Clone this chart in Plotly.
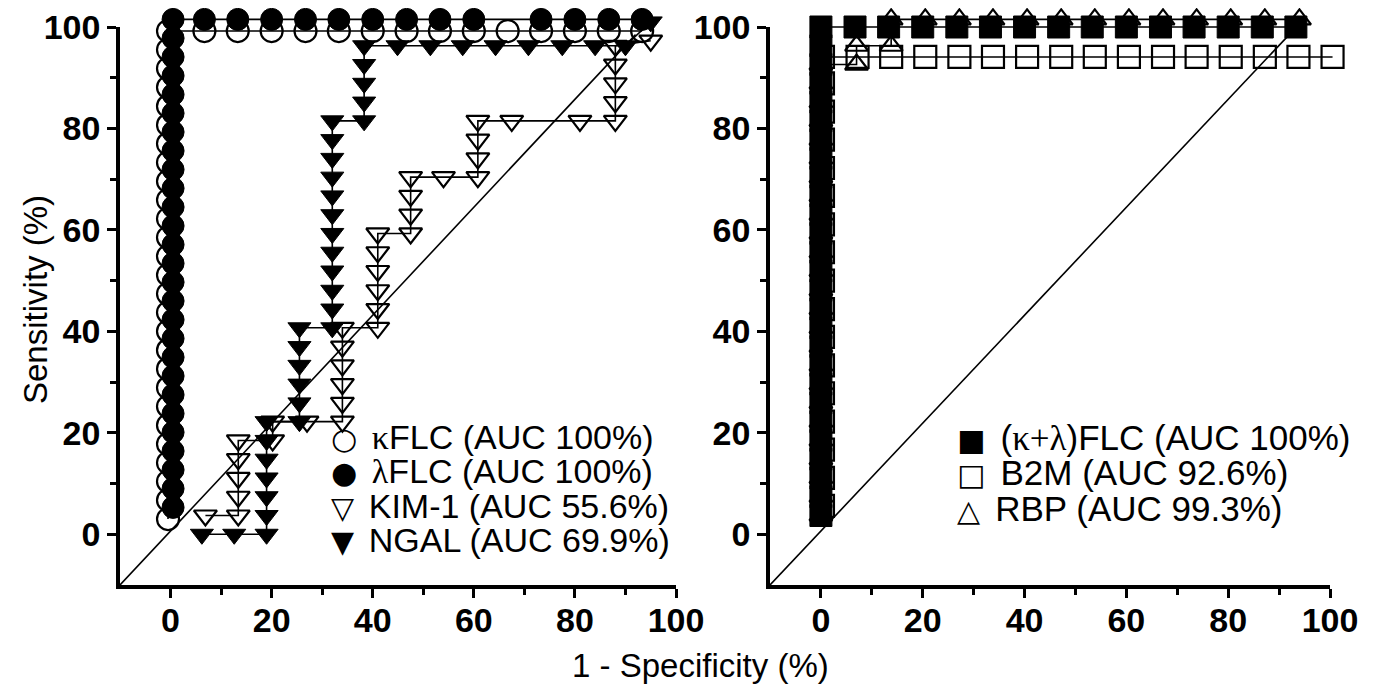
import plotly.graph_objects as go

# ---------------- data ----------------
# Left panel
kappa_fpr = [-0.5, -0.5, -0.5, -0.5, -0.5, -0.5, -0.5, -0.5, -0.5, -0.5,
             -0.5, -0.5, -0.5, -0.5, -0.5, -0.5, -0.5, -0.5, -0.5, -0.5,
             -0.5, -0.5, -0.5, -0.5, -0.5, -0.5, -0.5,
             6.7, 13.3, 20.0, 26.7, 33.3, 40.0, 46.7, 53.3, 60.0, 66.7,
             73.3, 80.0, 86.7, 93.3]
kappa_sens = [3.0, 6.7, 10.4, 14.1, 17.8, 21.5, 25.2, 28.9, 32.6, 36.3,
              40.0, 43.7, 47.4, 51.1, 54.8, 58.5, 62.2, 65.9, 69.6, 73.3,
              77.0, 80.7, 84.4, 88.1, 91.8, 95.5, 99.2,
              99.2, 99.2, 99.2, 99.2, 99.2, 99.2, 99.2, 99.2, 99.2, 99.2,
              99.2, 99.2, 99.2, 99.2]

lambda_fpr = [0.5, 0.5, 0.5, 0.5, 0.5, 0.5, 0.5, 0.5, 0.5, 0.5,
              0.5, 0.5, 0.5, 0.5, 0.5, 0.5, 0.5, 0.5, 0.5, 0.5,
              0.5, 0.5, 0.5, 0.5, 0.5, 0.5, 0.5,
              6.7, 13.3, 20.0, 26.7, 33.3, 40.0, 46.7, 53.3, 60.0,
              73.3, 80.0, 86.7, 93.3]
lambda_sens = [5.3, 9.0, 12.7, 16.4, 20.1, 23.8, 27.5, 31.2, 34.9, 38.6,
               42.3, 46.0, 49.7, 53.4, 57.1, 60.8, 64.5, 68.2, 71.9, 75.6,
               79.3, 83.0, 86.7, 90.4, 94.1, 97.8, 101.5,
               101.5, 101.5, 101.5, 101.5, 101.5, 101.5, 101.5, 101.5, 101.5,
               101.5, 101.5, 101.5, 101.5]

kim_fpr = [6.9, 13.4, 13.4, 13.4, 13.4, 13.4, 20.2, 20.2, 27.0, 34.0,
           34.0, 34.0, 34.0, 34.0, 34.0, 41.0, 41.0, 41.0, 41.0, 41.0,
           41.0, 47.5, 47.5, 47.5, 47.5, 54.0, 60.8, 60.8, 60.8, 60.8,
           67.5, 81.0, 88.0, 88.0, 88.0, 88.0, 88.0, 95.0]
kim_sens = [3.7, 3.7, 7.4, 11.1, 14.8, 18.5, 18.5, 22.2, 22.2, 22.2,
            25.9, 29.6, 33.3, 37.0, 40.7, 40.7, 44.4, 48.1, 51.9, 55.6,
            59.3, 59.3, 63.0, 66.7, 70.4, 70.4, 70.4, 74.1, 77.8, 81.5,
            81.5, 81.5, 81.5, 85.2, 88.9, 92.6, 96.3, 97.3]

ngal_fpr = [6.2, 12.6, 19.0, 19.0, 19.0, 19.0, 19.0, 19.0, 19.0, 25.5,
            25.5, 25.5, 25.5, 25.5, 25.5, 32.0, 32.0, 32.0, 32.0, 32.0,
            32.0, 32.0, 32.0, 32.0, 32.0, 32.0, 32.0, 38.3, 38.3, 38.3,
            38.3, 38.3, 44.9, 51.4, 57.8, 64.3, 70.8, 77.5, 84.0, 90.0, 95.0]
ngal_sens = [0.0, 0.0, 0.0, 3.7, 7.4, 11.1, 14.8, 18.5, 22.2, 22.2,
             25.9, 29.6, 33.3, 37.0, 40.7, 40.7, 44.4, 48.1, 51.9, 55.6,
             59.3, 63.0, 66.7, 70.4, 74.1, 77.8, 81.5, 81.5, 85.2, 88.9,
             92.6, 96.3, 96.3, 96.3, 96.3, 96.3, 96.3, 96.3, 96.3, 96.3, 101.0]

# Right panel
kl_fpr = [0.0, 0.0, 0.0, 0.0, 0.0, 0.0, 0.0, 0.0, 0.0, 0.0,
          0.0, 0.0, 0.0, 0.0, 0.0, 0.0, 0.0, 0.0, 0.0, 0.0,
          0.0, 0.0, 0.0, 0.0, 0.0, 0.0, 0.0,
          6.7, 13.3, 20.0, 26.7, 33.3, 40.0, 46.7, 53.3, 60.0, 66.7,
          73.3, 80.0, 86.7, 93.3]
kl_sens = [3.7, 7.4, 11.1, 14.8, 18.5, 22.2, 25.9, 29.6, 33.3, 37.0,
           40.7, 44.4, 48.1, 51.9, 55.6, 59.3, 63.0, 66.7, 70.4, 74.1,
           77.8, 81.5, 85.2, 88.9, 92.6, 96.3, 100.0,
           100.0, 100.0, 100.0, 100.0, 100.0, 100.0, 100.0, 100.0, 100.0, 100.0,
           100.0, 100.0, 100.0, 100.0]

b2m_fpr = [0.4, 0.4, 0.4, 0.4, 0.4, 0.4, 0.4, 0.4, 0.4, 0.4,
           0.4, 0.4, 0.4, 0.4, 0.4, 0.4, 0.4,
           7.2, 13.8, 20.5, 27.2, 33.8, 40.5, 47.2, 53.8, 60.5, 67.2,
           73.8, 80.5, 87.2, 93.8, 100.5]
b2m_sens = [5.6, 11.1, 16.7, 22.2, 27.8, 33.3, 38.9, 44.4, 50.0, 55.6,
            61.1, 66.7, 72.2, 77.8, 83.3, 88.9, 94.1,
            94.1, 94.1, 94.1, 94.1, 94.1, 94.1, 94.1, 94.1, 94.1, 94.1,
            94.1, 94.1, 94.1, 94.1, 94.1]

rbp_fpr = [0.0, 0.0, 0.0, 0.0, 0.0, 0.0, 0.0, 0.0, 0.0, 0.0,
           0.0, 0.0, 0.0, 0.0, 0.0, 0.0, 0.0, 0.0, 0.0, 0.0,
           0.0, 0.0, 0.0, 0.0, 0.0,
           7.0, 7.0, 13.8, 13.8, 20.5, 27.2, 33.8, 40.5, 47.2, 53.8, 60.5,
           67.2, 73.8, 80.5, 87.2, 94.0]
rbp_sens = [3.7, 7.4, 11.1, 14.8, 18.5, 22.2, 25.9, 29.6, 33.3, 37.0,
            40.7, 44.4, 48.1, 51.9, 55.6, 59.3, 63.0, 66.7, 70.4, 74.1,
            77.8, 81.5, 85.2, 88.9, 92.6,
            92.6, 96.3, 96.3, 101.5, 101.5, 101.5, 101.5, 101.5, 101.5, 101.5,
            101.5, 101.5, 101.5, 101.5, 101.5, 101.5]

diag_x = [-10, 92]
diag_y = [-10, 98.5]

tick_vals = [0, 20, 40, 60, 80, 100]
tick_text = ["0", "20", "40", "60", "80", "100"]
minor_vals = [10, 30, 50, 70, 90]

left_symbols = ["○", "●", "▽", "▼"]
left_greek = ["κ", "λ", "", ""]
left_labels = ["FLC (AUC 100%)", "FLC (AUC 100%)", "KIM-1 (AUC 55.6%)", "NGAL (AUC 69.9%)"]
right_symbols = ["■", "□", "△"]
right_greek = ["κ+λ", "", ""]
right_pre = ["(", "", ""]
right_labels = [")FLC (AUC 100%)", "B2M (AUC 92.6%)", "RBP (AUC 99.3%)"]

# ---------------- geometry ----------------
W, H = 1374, 692
OFF = 8                          # page body margin
XL0, XL1, XR0, XR1 = 120, 676, 770, 1330   # axis pixel extents (left/right panels)
YT, YB = 27, 585
EXT = 18                         # extra room so points just above 100 are not clipped
RNG = [-10, 100]
sxl = (XL1 - XL0) / (RNG[1] - RNG[0])
sxr = (XR1 - XR0) / (RNG[1] - RNG[0])
sy = (YB - YT) / (RNG[1] - RNG[0])

fig = go.Figure()

def add_diag(xa, ya):
    fig.add_trace(go.Scatter(x=diag_x, y=diag_y, mode="lines",
                             line=dict(color="black", width=1.6),
                             xaxis=xa, yaxis=ya, showlegend=False, hoverinfo="skip"))

def add_series(x, y, symbol, filled, size, xa, ya, name):
    fig.add_trace(go.Scatter(x=x, y=y, mode="lines", line=dict(color="black", width=1.6),
                             xaxis=xa, yaxis=ya, showlegend=False, hoverinfo="skip",
                             cliponaxis=False))
    if filled:
        mk = dict(symbol=symbol, size=size, color="black", line=dict(color="black", width=1))
    else:
        mk = dict(symbol=symbol + "-open", size=size, color="black",
                  line=dict(color="black", width=2.2))
    fig.add_trace(go.Scatter(x=x, y=y, mode="markers", marker=mk, name=name,
                             xaxis=xa, yaxis=ya, showlegend=False, cliponaxis=False))

add_diag("x3", "y3")
add_series(kappa_fpr, kappa_sens, "circle", False, 22, "x3", "y3", "κFLC")
add_series(lambda_fpr, lambda_sens, "circle", True, 22, "x3", "y3", "λFLC")
add_series(kim_fpr, kim_sens, "triangle-down", False, 20, "x3", "y3", "KIM-1")
add_series(ngal_fpr, ngal_sens, "triangle-down", True, 20, "x3", "y3", "NGAL")

add_diag("x4", "y4")
add_series(b2m_fpr, b2m_sens, "square", False, 22, "x4", "y4", "B2M")
add_series(kl_fpr, kl_sens, "square", True, 22, "x4", "y4", "(κ+λ)FLC")
add_series(rbp_fpr, rbp_sens, "triangle-up", False, 20, "x4", "y4", "RBP")

tickfont = dict(family="Liberation Sans, Arial", size=34, color="black", weight="bold")
axis_common = dict(range=RNG, showline=True, linewidth=3.5, linecolor="black",
                   ticks="outside", ticklen=9, tickwidth=3, tickcolor="black",
                   tickvals=tick_vals, ticktext=tick_text, tickfont=tickfont,
                   ticklabeloverflow="allow",
                   showgrid=False, zeroline=False, fixedrange=True, automargin=False,
                   minor=dict(tickvals=minor_vals, ticks="outside", ticklen=6,
                              tickwidth=3, tickcolor="black", showgrid=False))
hidden = dict(visible=False, showgrid=False, zeroline=False, fixedrange=True, automargin=False)

def fx(px):
    return (px - OFF) / W

def fy(px):
    return (H - px + OFF) / H

fig.update_layout(
    template="none",
    width=W, height=H, margin=dict(l=0, r=0, t=0, b=0, autoexpand=False),
    paper_bgcolor="white", plot_bgcolor="rgba(0,0,0,0)", showlegend=False,
    xaxis=dict(domain=[fx(XL0), fx(XL1)], anchor="y", ticklabelstandoff=-7, **axis_common),
    yaxis=dict(domain=[fy(YB), fy(YT)], anchor="x", **axis_common),
    xaxis2=dict(domain=[fx(XR0), fx(XR1)], anchor="y2", ticklabelstandoff=-7, **axis_common),
    yaxis2=dict(domain=[fy(YB), fy(YT)], anchor="x2", **axis_common),
    # data axes: same scale, slightly larger area so marks above 100 stay visible
    xaxis3=dict(domain=[fx(XL0), fx(XL1 + EXT)], range=[RNG[0], RNG[1] + EXT / sxl],
                anchor="y3", **hidden),
    yaxis3=dict(domain=[fy(YB), fy(YT - EXT)], range=[RNG[0], RNG[1] + EXT / sy],
                anchor="x3", **hidden),
    xaxis4=dict(domain=[fx(XR0), fx(XR1 + EXT)], range=[RNG[0], RNG[1] + EXT / sxr],
                anchor="y4", **hidden),
    yaxis4=dict(domain=[fy(YB), fy(YT - EXT)], range=[RNG[0], RNG[1] + EXT / sy],
                anchor="x4", **hidden),
)

lab_font = dict(family="Liberation Sans, Arial", size=33, color="black")
SYM = "font-family:'DejaVu Sans';font-size:30px"

ann = []
ann.append(dict(text="Sensitivity (%)", x=fx(36), y=fy(300),
                xref="paper", yref="paper", textangle=-90, showarrow=False, font=lab_font,
                xanchor="center", yanchor="middle"))
ann.append(dict(text="1 - Specificity (%)", x=fx(700), y=fy(665),
                xref="paper", yref="paper", showarrow=False, font=lab_font,
                xanchor="center", yanchor="middle"))

def legend_line(sym, pre, greek, label, size, gap):
    txt = f"font-size:{size}px"
    grk = f"font-family:'Liberation Serif';font-size:{size}px"
    line = f"<span style=\"{SYM}\">{sym}</span>{gap}"
    if pre:
        line += f"<span style=\"{txt}\">{pre}</span>"
    if greek:
        line += f"<span style=\"{grk}\">{greek}</span>"
    line += f"<span style=\"{txt}\">{label}</span>"
    return line

left_lines = [legend_line(s, "", g, t, 34, "\u00a0\u00a0")
              for s, g, t in zip(left_symbols, left_greek, left_labels)]
right_lines = [legend_line(s, p, g, t, 35, "\u00a0\u00a0")
               for s, p, g, t in zip(right_symbols, right_pre, right_greek, right_labels)]

ann.append(dict(text="<br>".join(left_lines), x=31.3, y=100 - (488.5 - YT) / sy,
                xref="x", yref="y", showarrow=False, align="left",
                font=dict(family="Liberation Sans, Arial", size=26.4, color="black"),
                xanchor="left", yanchor="middle"))
ann.append(dict(text="<br>".join(right_lines), x=26.3, y=100 - (472.5 - YT) / sy,
                xref="x2", yref="y2", showarrow=False, align="left",
                font=dict(family="Liberation Sans, Arial", size=27.2, color="black"),
                xanchor="left", yanchor="middle"))
fig.update_layout(annotations=ann)

fig.write_html("out.html")
